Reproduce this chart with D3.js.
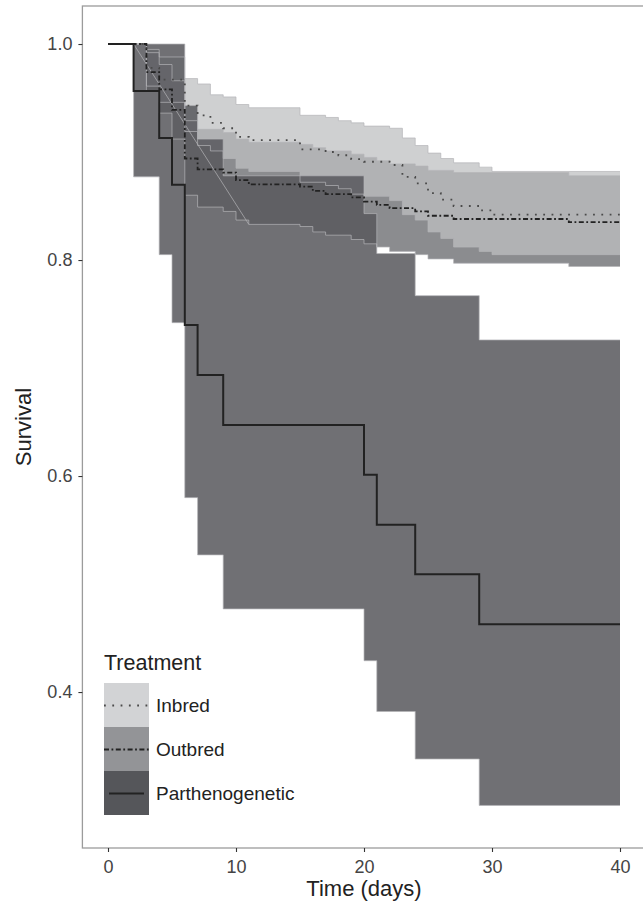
<!DOCTYPE html>
<html>
<head>
<meta charset="utf-8">
<script src="https://cdn.jsdelivr.net/npm/d3@7"></script>
<style>
  body { margin: 0; background: #fff; }
  text { font-family: "Liberation Sans", Arial, sans-serif; }
</style>
</head>
<body>
<div id="chart"></div>
<script>
// Kaplan-Meier curves (time in days)
const groups = ['Inbred', 'Outbred', 'Parthenogenetic'];
const endTime = 40;

const inbredTime  = [0, 3, 4, 6, 7, 8, 9, 10, 11, 15, 17, 18, 19, 20, 22, 23, 24, 25, 26, 27, 29, 30];
const inbredSurv  = [1, .978, .967, .943, .934, .927, .922, .914, .911, .9025, .900, .897, .8935, .891, .888, .877, .871, .862, .856, .850, .846, .842];
const inbredUpper = [1, .995, .988, .968, .963, .953, .951, .944, .941, .934, .932, .929, .927, .924, .922, .913, .906, .899, .894, .890, .886, .882];
const inbredLower = [1, .961, .946, .919, .906, .901, .894, .885, .882, .872, .869, .866, .861, .859, .855, .842, .837, .826, .820, .812, .808, .805];

const outbredTime  = [0, 3, 4, 5, 6, 7, 9, 10, 11, 15, 16, 17, 19, 20, 21, 22, 24, 25, 27, 36];
const outbredSurv  = [1, .974, .958, .939, .894, .884, .881, .874, .870, .868, .864, .861, .858, .854, .851, .848, .845, .841, .838, .835];
const outbredUpper = [1, .992, .981, .966, .929, .921, .918, .912, .909, .907, .904, .901, .898, .895, .892, .889, .887, .883, .881, .878];
const outbredLower = [1, .956, .936, .912, .860, .849, .845, .837, .833, .831, .826, .823, .819, .815, .812, .808, .805, .801, .797, .794];

const partTime  = [0, 2, 4, 5, 6, 7, 9, 20, 21, 24, 29];
const partSurv  = [1, .9565, .913, .8696, .7398, .6935, .6472, .6011, .555, .509, .4627];
const partUpper = [1, 1, 1, 1, .943, .912, .878, .843, .806, .767, .726];
const partLower = [1, .877, .805, .742, .580, .527, .477, .429, .382, .338, .295];

// odd straight edge of the outbred ribbon
const diagTimes = [2, 11];
const diagVals  = [1, .833];

const xTicks = [0, 10, 20, 30, 40];
const yTicks = [0.4, 0.6, 0.8, 1.0];

function build(t, s, u, l) {
  const rows = t.map((d, i) => ({ time: d, surv: s[i], upper: u[i], lower: l[i] }));
  const last = rows[rows.length - 1];
  rows.push({ ...last, time: endTime });
  return rows;
}

const series = {
  Inbred: build(inbredTime, inbredSurv, inbredUpper, inbredLower),
  Outbred: build(outbredTime, outbredSurv, outbredUpper, outbredLower),
  Parthenogenetic: build(partTime, partSurv, partUpper, partLower)
};

const bandFill = {
  Inbred: 'rgba(190,191,193,0.74)',
  Outbred: 'rgb(139,140,143)',
  Parthenogenetic: 'rgba(88,89,93,0.86)'
};
const keyFill = { Inbred: '#d2d3d5', Outbred: '#939497', Parthenogenetic: '#55565a' };
const lineStyle = {
  Inbred: { color: '#4a4a4a', width: 1.8, dash: '1.8 6.5' },
  Outbred: { color: '#222', width: 1.8, dash: '5 2.5 1.8 2.5' },
  Parthenogenetic: { color: '#222', width: 2, dash: null }
};

const W = 643, H = 908;
const svg = d3.select('#chart').append('svg').attr('width', W).attr('height', H);

const x = d3.scaleLinear().domain([-2, 42]).range([82.4, 645.6]);
const y = d3.scaleLinear().domain([0.2556, 1.0352]).range([848, 6]);

// ribbons: outbred first, then inbred, then parthenogenetic
const area = d3.area().curve(d3.curveStepAfter)
  .x(d => x(d.time)).y0(d => y(d.lower)).y1(d => y(d.upper));
['Outbred', 'Inbred', 'Parthenogenetic'].forEach(g => {
  svg.append('path').datum(series[g])
    .attr('d', area).attr('fill', bandFill[g]);
});

// thin ribbon edges
const edge = key => d3.line().curve(d3.curveStepAfter).x(d => x(d.time)).y(d => y(d[key]));
['Outbred', 'Inbred', 'Parthenogenetic'].forEach(g => {
  ['upper', 'lower'].forEach(k => {
    svg.append('path').datum(series[g])
      .attr('d', edge(k)).attr('fill', 'none')
      .attr('stroke', '#b4b5b7').attr('stroke-width', 0.7);
  });
});
svg.append('path')
  .datum(diagTimes.map((t, i) => [t, diagVals[i]]))
  .attr('d', d3.line().x(d => x(d[0])).y(d => y(d[1])))
  .attr('fill', 'none').attr('stroke', '#b4b5b7').attr('stroke-width', 0.7);

// survival curves
const survLine = d3.line().curve(d3.curveStepAfter).x(d => x(d.time)).y(d => y(d.surv));
groups.forEach(g => {
  const st = lineStyle[g];
  svg.append('path').datum(series[g])
    .attr('d', survLine).attr('fill', 'none')
    .attr('stroke', st.color).attr('stroke-width', st.width)
    .attr('stroke-dasharray', st.dash);
});

// panel border
svg.append('rect')
  .attr('x', x(-2)).attr('y', y(1.0352))
  .attr('width', x(42) - x(-2)).attr('height', y(0.2556) - y(1.0352))
  .attr('fill', 'none').attr('stroke', '#9b9b9b').attr('stroke-width', 1.3);

// axes
const xAxis = svg.append('g').attr('transform', `translate(0,${y(0.2556)})`)
  .call(d3.axisBottom(x).tickValues(xTicks).tickSize(4).tickPadding(8));
const yAxis = svg.append('g').attr('transform', `translate(${x(-2)},0)`)
  .call(d3.axisLeft(y).tickValues(yTicks).tickFormat(d3.format('.1f')).tickSize(4).tickPadding(6));
[xAxis, yAxis].forEach(a => {
  a.select('.domain').remove();
  a.selectAll('line').attr('stroke', '#333').attr('stroke-width', 1.1);
  a.selectAll('text').attr('font-size', 18).attr('fill', '#444')
    .style('font-family', '"Liberation Sans", Arial, sans-serif');
});

svg.append('text').attr('x', (x(-2) + x(42)) / 2).attr('y', 896)
  .attr('text-anchor', 'middle').attr('font-size', 22).attr('fill', '#222')
  .text('Time (days)');
svg.append('text')
  .attr('transform', `translate(31,${(y(0.2556) + y(1.0352)) / 2}) rotate(-90)`)
  .attr('text-anchor', 'middle').attr('font-size', 22).attr('fill', '#222')
  .text('Survival');

// legend
const lg = svg.append('g').attr('transform', 'translate(104,670)');
lg.append('text').attr('x', 0).attr('y', 0).attr('font-size', 21.5).attr('fill', '#222').text('Treatment');
groups.forEach((g, i) => {
  const top = 13 + i * 44;
  lg.append('rect').attr('x', 0).attr('y', top).attr('width', 45).attr('height', 44)
    .attr('fill', keyFill[g]);
  const st = lineStyle[g];
  const inset = st.dash ? 0 : 5;
  lg.append('line').attr('x1', inset).attr('x2', 45 - inset)
    .attr('y1', top + 22.5).attr('y2', top + 22.5)
    .attr('stroke', st.color).attr('stroke-width', st.width)
    .attr('stroke-dasharray', st.dash);
  lg.append('text').attr('x', 52).attr('y', top + 29)
    .attr('font-size', 19).attr('fill', '#222').text(g);
});
</script>
</body>
</html>
